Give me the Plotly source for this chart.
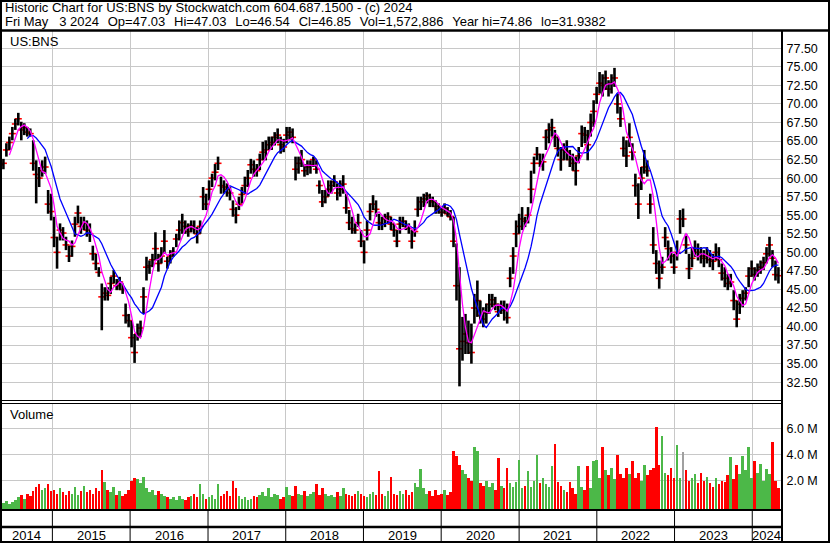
import plotly.graph_objects as go
import pandas as pd

W, H = 830, 543

# ---------------- data (biweekly bars) ----------------
start_date = "2014-05-02"
n_bars = 262

close = [
    61.8, 62.0, 63.8, 64.8, 66.0, 67.3, 68.0, 66.5, 66.8, 66.2,
    66.0, 62.0, 60.5, 60.0, 61.0, 61.5, 56.5, 55.5, 52.0, 50.0,
    53.0, 52.6, 51.0, 49.5, 50.8, 53.8, 55.3, 53.5, 53.9, 53.0,
    52.5, 49.8, 48.5, 47.3, 44.0, 44.5, 44.2, 45.8, 46.8, 45.5,
    46.0, 45.0, 41.5, 40.8, 38.5, 36.5, 39.0, 39.8, 44.0, 48.0,
    48.2, 49.0, 50.5, 48.5, 49.5, 51.5, 48.8, 49.5, 50.0, 51.8,
    53.0, 54.0, 53.5, 52.8, 53.6, 53.2, 52.5, 53.5, 57.5, 56.5,
    58.5, 60.0, 60.8, 62.0, 59.0, 58.8, 58.5, 58.0, 55.8, 55.0,
    56.5, 57.8, 59.0, 60.0, 61.8, 61.2, 61.0, 62.5, 63.5, 63.8,
    64.5, 64.8, 65.5, 65.8, 64.5, 64.2, 65.8, 66.2, 65.5, 61.2,
    62.0, 62.5, 61.0, 61.5, 61.8, 62.5, 61.2, 59.0, 56.8, 57.5,
    58.5, 59.0, 59.5, 58.0, 58.5, 59.2, 56.0, 54.0, 53.2, 53.0,
    54.0, 51.5, 50.0, 53.0, 55.5, 56.5, 55.8, 54.0, 53.8, 54.5,
    54.8, 53.8, 53.0, 51.5, 53.8, 54.2, 53.5, 53.2, 51.5, 52.8,
    55.8, 56.8, 57.2, 57.6, 57.0, 56.8, 56.2, 55.8, 55.4, 55.9,
    55.2, 54.8, 51.5, 45.5, 37.0, 38.0, 39.0, 37.8, 36.5, 42.5,
    43.5, 41.5, 41.0, 41.8, 43.0, 43.6, 43.0, 42.0, 42.8, 42.2,
    41.2, 46.5, 49.5, 52.5, 53.5, 54.5, 54.2, 55.0, 58.5, 62.0,
    63.2, 62.0, 62.2, 65.5, 66.5, 66.8, 65.5, 64.0, 62.5, 63.8,
    63.5, 62.5, 62.0, 61.0, 63.0, 66.0, 65.8, 64.5, 67.5, 69.0,
    71.3, 72.8, 72.5, 73.5, 72.0, 72.8, 73.5, 70.0, 68.0, 64.0,
    63.0, 65.5, 63.5, 59.0, 56.5, 60.0, 61.5, 61.0, 56.5, 51.0,
    48.5, 46.5, 48.0, 52.0, 50.5, 49.5, 48.0, 50.0, 54.5, 54.5,
    51.0, 47.8, 49.2, 50.5, 50.0, 49.5, 49.2, 49.5, 49.0, 48.8,
    50.0, 49.0, 47.2, 46.5, 45.8, 46.0, 43.5, 41.0, 43.0, 43.8,
    44.5, 46.8, 47.8, 47.0, 47.6, 48.0, 48.6, 49.8, 51.0, 49.2,
    47.0, 46.85,
]

high = [
    62.9, 62.6, 64.7, 65.6, 66.9, 68.0, 68.8, 67.6, 67.4, 66.9,
    66.7, 65.1, 62.4, 61.5, 62.4, 62.9, 58.4, 57.9, 54.8, 52.1,
    53.9, 53.4, 52.1, 50.9, 51.6, 54.8, 56.3, 54.8, 54.8, 54.3,
    53.9, 50.9, 49.8, 48.0, 45.8, 45.3, 45.3, 46.7, 47.6, 46.4,
    46.7, 45.8, 43.1, 41.7, 40.8, 39.0, 40.4, 40.8, 45.3, 49.4,
    48.9, 49.8, 52.7, 49.8, 50.7, 53.0, 49.4, 50.3, 50.7, 52.5,
    54.3, 55.2, 54.3, 53.9, 54.3, 54.3, 53.4, 54.3, 58.8, 57.9,
    59.7, 60.6, 61.9, 62.9, 60.2, 59.7, 59.3, 58.8, 57.0, 56.1,
    57.5, 58.8, 60.2, 61.1, 62.6, 62.4, 61.9, 63.3, 64.9, 65.1,
    65.6, 65.6, 66.2, 66.7, 65.6, 65.3, 66.9, 66.9, 66.7, 62.9,
    62.9, 63.8, 61.9, 62.4, 62.4, 62.9, 62.4, 59.7, 58.4, 58.4,
    59.7, 59.7, 60.4, 59.3, 59.7, 60.4, 57.9, 55.7, 54.8, 53.9,
    55.2, 53.0, 51.6, 54.3, 56.6, 57.7, 57.0, 55.2, 54.8, 55.2,
    55.4, 54.8, 53.9, 53.0, 54.8, 54.8, 54.3, 53.9, 53.0, 54.3,
    57.5, 57.5, 57.9, 58.1, 57.9, 57.5, 57.0, 56.6, 56.1, 56.6,
    56.1, 55.7, 54.8, 51.2, 48.0, 41.3, 41.7, 40.8, 40.4, 44.4,
    46.2, 43.5, 42.6, 43.1, 44.4, 44.4, 44.0, 43.1, 43.5, 43.5,
    43.1, 48.0, 50.7, 54.3, 55.2, 56.1, 54.8, 56.1, 61.0, 62.9,
    64.2, 63.3, 63.3, 66.5, 67.4, 68.0, 66.5, 65.6, 64.2, 64.7,
    65.1, 63.8, 63.3, 62.9, 64.2, 67.1, 66.9, 66.5, 68.7, 70.5,
    72.3, 74.3, 74.0, 74.5, 73.2, 74.0, 74.86, 71.4, 69.6, 65.6,
    65.1, 67.4, 64.7, 60.6, 59.3, 61.5, 63.8, 62.4, 57.9, 53.4,
    50.3, 48.9, 49.4, 53.4, 51.6, 50.7, 49.8, 51.6, 55.7, 55.9,
    52.5, 49.8, 50.7, 51.6, 51.2, 50.7, 50.3, 50.7, 50.3, 49.8,
    51.2, 50.7, 48.5, 48.0, 47.1, 47.1, 44.9, 43.5, 44.4, 44.9,
    45.3, 48.0, 48.9, 48.0, 48.5, 48.9, 49.4, 50.7, 52.1, 50.3,
    48.9, 48.0,
]

low = [
    60.8, 61.2, 62.9, 63.8, 65.1, 66.5, 67.1, 65.1, 65.8, 65.6,
    65.6, 61.0, 56.6, 58.8, 60.2, 60.6, 55.2, 54.3, 50.7, 47.8,
    51.6, 51.6, 50.3, 48.7, 49.4, 52.1, 53.9, 52.5, 53.0, 52.1,
    51.4, 48.9, 47.6, 46.7, 39.5, 43.5, 43.5, 44.4, 45.8, 44.9,
    44.9, 44.4, 40.4, 39.9, 37.2, 35.1, 38.1, 38.6, 41.7, 46.2,
    47.1, 48.0, 48.9, 47.4, 48.5, 49.8, 47.8, 48.5, 49.4, 50.7,
    51.6, 52.5, 52.5, 52.1, 52.7, 52.5, 51.2, 52.5, 55.7, 55.7,
    57.0, 58.8, 59.7, 61.1, 57.9, 57.9, 57.5, 57.0, 54.8, 53.9,
    55.7, 56.6, 57.9, 58.8, 60.6, 60.2, 60.2, 61.1, 62.4, 62.4,
    63.8, 63.8, 64.4, 64.7, 63.3, 63.5, 64.7, 65.1, 64.7, 59.7,
    60.6, 61.5, 60.2, 60.4, 60.6, 61.5, 60.6, 57.9, 56.1, 56.6,
    57.5, 57.9, 58.8, 57.0, 57.5, 57.9, 55.2, 53.0, 52.5, 52.5,
    53.4, 50.7, 48.5, 51.6, 54.3, 55.7, 54.8, 53.0, 53.0, 53.4,
    53.9, 53.0, 52.1, 50.7, 52.5, 53.4, 53.0, 52.5, 50.5, 52.1,
    54.8, 55.7, 56.1, 56.6, 56.1, 56.1, 55.2, 55.2, 54.8, 55.2,
    54.8, 54.3, 50.7, 43.5, 31.94, 35.4, 36.3, 36.3, 35.0, 40.4,
    41.3, 40.4, 39.9, 40.4, 41.7, 42.6, 42.2, 41.3, 41.7, 40.8,
    40.4, 45.3, 47.1, 50.7, 52.5, 53.0, 53.4, 53.9, 56.6, 60.6,
    62.4, 61.5, 61.0, 63.8, 64.7, 65.6, 64.2, 62.9, 61.0, 62.4,
    62.4, 61.5, 61.0, 59.0, 62.0, 64.2, 64.7, 62.4, 65.6, 66.9,
    70.0, 71.4, 71.0, 71.9, 71.0, 71.4, 72.3, 68.7, 66.9, 62.9,
    61.5, 64.2, 62.4, 57.5, 54.5, 58.4, 60.6, 60.2, 55.2, 49.8,
    47.1, 45.1, 47.1, 50.7, 48.9, 48.5, 47.1, 48.9, 52.5, 53.4,
    49.8, 46.4, 48.0, 49.4, 48.9, 48.5, 48.0, 48.5, 48.0, 47.6,
    48.9, 48.0, 46.2, 45.3, 44.9, 45.3, 42.2, 39.9, 41.7, 42.6,
    43.5, 45.3, 46.7, 46.2, 46.7, 47.1, 47.6, 48.5, 49.4, 48.0,
    46.2, 45.8,
]

volume_m = [
    0.3, 0.25, 0.4, 0.2, 0.35, 0.5,
    0.7, 0.9, 0.6, 1.0, 0.8, 1.2,
    1.5, 1.7, 1.3, 1.4, 1.7, 1.2,
    1.3, 1.0, 1.4, 1.1, 0.9,
    1.2, 1.0, 1.5, 0.9, 1.2, 1.6, 1.1,
    1.3, 1.0, 1.4, 1.2, 2.8,
    1.9, 1.3, 1.1, 1.5, 0.9,
    1.2, 0.8, 1.0, 1.3, 2.0,
    2.2, 2.1, 1.8, 2.3, 1.4,
    1.1, 1.3, 0.9, 1.2, 1.0, 0.8, 0.7,
    0.6, 0.7, 0.5, 0.8, 0.6, 0.5, 0.7,
    0.8, 1.0, 0.7, 1.7, 1.0, 0.6,
    0.7, 0.9, 0.6, 1.7, 0.8, 1.0, 1.2, 0.8, 2.0,
    1.4, 0.8, 0.6, 0.7, 0.5, 0.6, 0.8, 0.7, 0.9, 1.1,
    0.8, 1.4, 0.7, 1.0, 0.9, 0.6, 0.7, 1.5, 0.9, 0.8, 1.6, 1.0,
    0.9, 1.2, 0.8, 1.0, 1.1, 1.7, 0.9, 1.4, 1.0, 0.8, 0.9, 0.7, 1.1, 0.8, 1.4,
    1.0, 0.9, 0.8, 1.0, 1.2, 1.0, 0.8, 0.7, 1.0, 1.1, 0.9, 2.7,
    1.0, 0.8, 1.2, 2.3, 1.0, 0.9, 1.2, 1.0, 1.3, 0.9, 1.1, 1.8, 1.5, 2.9,
    1.4, 1.0, 1.2, 0.8, 1.3, 0.9, 1.0, 1.3, 0.9, 1.1,
    4.25, 3.9, 3.2, 2.8, 2.5,
    2.2, 2.0, 4.6, 4.3, 1.8, 1.6, 2.0,
    1.5, 1.8, 1.3, 3.7, 1.6, 1.4, 3.0,
    1.8, 1.5, 1.9, 3.55, 1.4, 1.6, 2.75, 1.5,
    2.0, 4.0, 1.8, 2.2, 1.7, 1.5, 3.1, 4.8, 1.9,
    1.6, 1.3, 1.1, 1.9, 1.4, 1.0, 3.1, 1.5, 1.3, 3.1, 1.4, 3.5, 3.55, 2.2,
    4.6, 2.8, 2.4, 3.0, 2.1, 4.0, 2.5, 2.2, 3.0, 2.5, 3.5, 2.2, 2.6, 2.0, 3.2,
    2.4, 2.8, 3.0, 6.1, 3.2, 5.4, 2.6, 2.4, 3.0, 2.2, 4.7, 2.2, 4.2, 2.8, 2.0,
    2.2, 2.5, 1.8, 2.6,
    2.0, 2.3, 1.8, 1.5, 2.2, 1.7, 2.0, 1.9, 2.4, 3.8, 2.1,
    3.2, 2.5, 3.9, 2.8, 4.6, 2.2, 3.5, 2.6, 3.3, 2.0, 2.9, 2.5, 5.0, 2.0, 1.45,
]

price_ticks = [32.5, 35.0, 37.5, 40.0, 42.5, 45.0, 47.5, 50.0, 52.5, 55.0,
               57.5, 60.0, 62.5, 65.0, 67.5, 70.0, 72.5, 75.0, 77.5]
volume_ticks_m = [2.0, 4.0, 6.0]
volume_tick_labels = ["2.0 M", "4.0 M", "6.0 M"]
years = [2014, 2015, 2016, 2017, 2018, 2019, 2020, 2021, 2022, 2023, 2024]
short_ma, long_ma = 4, 10

GAP = "\u00a0\u2009\u2009"
title1 = "Historic Chart for US:BNS by Stockwatch.com 604.687.1500 - (c) 2024"
title2 = GAP.join(["Fri May\u00a0\u00a0 3 2024", "Op=47.03", "Hi=47.03", "Lo=46.54",
                   "Cl=46.85", "Vol=1,572,886", "Year hi=74.86", "lo=31.9382"])

for name, arr in [("close", close), ("high", high), ("low", low), ("volume", volume_m)]:
    assert len(arr) == n_bars, (name, len(arr))

dates = pd.date_range(start_date, periods=n_bars, freq="14D")
df = pd.DataFrame({"close": close, "high": high, "low": low, "vol": [v * 1e6 for v in volume_m]}, index=dates)
ma_s = df["close"].rolling(short_ma).mean()
ma_l = df["close"].rolling(long_ma).mean()

x_start, x_end = pd.Timestamp("2014-04-30"), pd.Timestamp("2024-05-15")

# ---------------- layout geometry (pixels) ----------------
PLOT_R = 781
P_TOP, P_BOT = 31, 400
V_TOP, V_BOT = 403, 509
FONT = "Liberation Sans, Arial, sans-serif"


def py(yp):
    return 1 - yp / H


def px(xp):
    return xp / W


fig = go.Figure()

# red close ticks (under the bars, so they only peek out at the edges)
fig.add_trace(go.Scatter(
    x=dates, y=df["close"], mode="markers",
    marker=dict(symbol="line-ew", size=5, line=dict(color="#ff0000", width=1.6)),
    xaxis="x", yaxis="y", hoverinfo="skip"))

# high-low bars
hx, hy = [], []
for d, lo, hi in zip(dates, df["low"], df["high"]):
    hx += [d, d, None]
    hy += [lo, hi, None]
fig.add_trace(go.Scatter(x=hx, y=hy, mode="lines", line=dict(color="#000000", width=2.6),
                         xaxis="x", yaxis="y", hoverinfo="skip"))

fig.add_trace(go.Scatter(x=dates, y=ma_l, mode="lines", line=dict(color="#0000ff", width=1.3),
                         xaxis="x", yaxis="y"))
fig.add_trace(go.Scatter(x=dates, y=ma_s, mode="lines", line=dict(color="#ff00ff", width=1.3),
                         xaxis="x", yaxis="y"))

# volume
vcol = []
prev = None
for c in close:
    if prev is None or c > prev:
        vcol.append("#4cb848")
    elif c < prev:
        vcol.append("#ff0000")
    else:
        vcol.append("#a0a0a0")
    prev = c

v_min = -0.19e6
fig.add_trace(go.Bar(x=dates, y=[v - v_min for v in df["vol"]], base=v_min,
                     marker=dict(color=vcol, line=dict(width=0)),
                     width=12 * 86400000, xaxis="x2", yaxis="y2"))

grid = "#c8c8c8"
year_bounds = [pd.Timestamp(f"{y}-01-01") for y in years[1:]]

fig.update_layout(
    width=W, height=H, margin=dict(l=0, r=0, t=0, b=0, autoexpand=False),
    paper_bgcolor="white", plot_bgcolor="white", showlegend=False,
    bargap=0,
    font=dict(family=FONT, size=13, color="#000000"),
    xaxis=dict(domain=[0, px(PLOT_R)], range=[x_start, x_end], type="date",
               tickvals=year_bounds, showticklabels=False, showgrid=True, gridcolor=grid,
               gridwidth=1, zeroline=False, showline=False, anchor="y", automargin=False),
    yaxis=dict(domain=[py(P_BOT), py(P_TOP)], range=[30.1, 79.83], side="right",
               tickvals=price_ticks, ticktext=[f"{v:.2f}" for v in price_ticks],
               showgrid=True, gridcolor=grid, gridwidth=1, zeroline=False,
               ticks="outside", ticklen=2, tickcolor="rgba(0,0,0,0)",
               tickfont=dict(size=12.5, family=FONT), anchor="x", automargin=False),
    xaxis2=dict(domain=[0, px(PLOT_R)], range=[x_start, x_end], type="date",
                tickvals=year_bounds, showticklabels=False, showgrid=True, gridcolor=grid,
                zeroline=False, showline=False, anchor="y2", matches="x", automargin=False),
    yaxis2=dict(domain=[py(V_BOT), py(V_TOP)], range=[v_min, 7.96e6], side="right",
                tickvals=[v * 1e6 for v in volume_ticks_m], ticktext=volume_tick_labels,
                showgrid=True, gridcolor=grid, zeroline=False,
                ticks="outside", ticklen=2, tickcolor="rgba(0,0,0,0)",
                tickfont=dict(size=12.5, family=FONT), anchor="x2", automargin=False),
)

shapes = []


def hline(yp, x0p, x1p, w):
    shapes.append(dict(type="line", xref="paper", yref="paper", x0=px(x0p), x1=px(x1p),
                       y0=py(yp), y1=py(yp), line=dict(color="black", width=w)))


def vline(xp, y0p, y1p, w):
    shapes.append(dict(type="line", xref="paper", yref="paper", x0=px(xp), x1=px(xp),
                       y0=py(y0p), y1=py(y1p), line=dict(color="black", width=w)))


# outer frame
shapes.append(dict(type="rect", xref="paper", yref="paper", x0=px(1), x1=px(829), y0=py(542), y1=py(1),
                   line=dict(color="black", width=2), fillcolor="rgba(0,0,0,0)"))
hline(30.5, 0, W, 2.5)
vline(782, 30.5, H, 2)
hline(400.5, 0, 782, 1)
hline(403.5, 0, 782, 1)
hline(510, 0, 782, 2)
hline(527, 0, 782, 2.5)
for yb in year_bounds:
    for (a, b) in [(511, 526), (528, 543)]:
        shapes.append(dict(type="line", xref="x", yref="paper", x0=yb, x1=yb,
                           y0=py(a), y1=py(b), line=dict(color="black", width=1)))
fig.update_layout(shapes=shapes)

ann = [
    dict(text=title1, x=px(3), y=py(8), xanchor="left", yanchor="middle"),
    dict(text=title2, x=px(3), y=py(21), xanchor="left", yanchor="middle"),
    dict(text="US:BNS", x=px(8), y=py(41.5), xanchor="left", yanchor="middle"),
    dict(text="Volume", x=px(8), y=py(414), xanchor="left", yanchor="middle"),
]
for a in ann:
    a.update(xref="paper", yref="paper", showarrow=False, font=dict(size=13, family=FONT))

bounds = [x_start] + year_bounds + [x_end]
for y, a, b in zip(years, bounds[:-1], bounds[1:]):
    mid = a + (b - a) / 2
    ann.append(dict(text=str(y), x=mid, y=py(535.5), xref="x", yref="paper", showarrow=False,
                    xanchor="center", yanchor="middle", font=dict(size=13, family=FONT)))
fig.update_layout(annotations=ann)

fig.write_html("out.html", config={"displayModeBar": False},
               post_script="document.body.style.margin='0px';document.body.style.overflow='hidden';")
